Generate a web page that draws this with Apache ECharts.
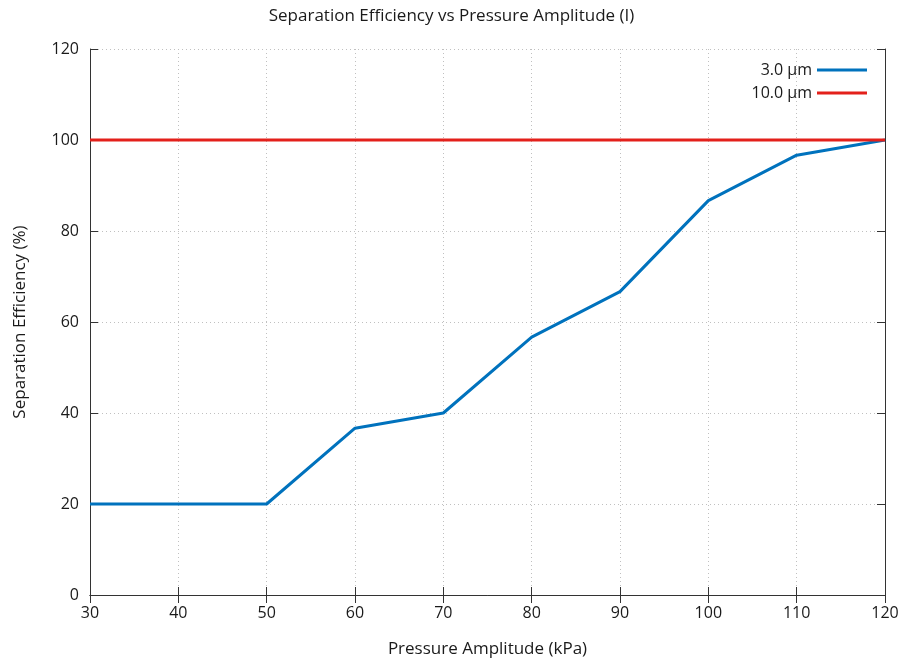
<!DOCTYPE html>
<html>
<head>
<meta charset="utf-8">
<script src="https://cdn.jsdelivr.net/npm/echarts@6/dist/echarts.min.js"></script>
<style>
  html, body { margin: 0; padding: 0; background: #fff; }
  #chart { width: 903px; height: 663px; }
</style>
</head>
<body>
<div id="chart"></div>
<script>
// Pressure amplitude (kPa) on the x axis
const pressure = [30, 40, 50, 60, 70, 80, 90, 100, 110, 120];
// Separation efficiency (%) for each particle size
const eff3um = [20, 20, 20, 36.67, 40, 56.67, 66.67, 86.67, 96.67, 100];
const eff10um = [100, 100, 100, 100, 100, 100, 100, 100, 100, 100];

const FONT = 'Open Sans';
const AXIS_COLOR = '#333';
const textStyle = { fontFamily: FONT, fontSize: 16, color: '#1a1a1a' };
const nameStyle = { fontFamily: FONT, fontSize: 17, color: '#1a1a1a' };

const toPairs = (xs, ys) => xs.map((x, i) => [x, ys[i]]);

const chart = echarts.init(document.getElementById('chart'), null, { renderer: 'canvas' });

const gridLine = { show: true, lineStyle: { color: '#c0c0c0', type: [1, 3], width: 1 } };
const tick = { show: true, inside: true, length: 8, lineStyle: { color: AXIS_COLOR, width: 1 } };

chart.setOption({
  animation: false,
  backgroundColor: '#fff',
  title: {
    text: 'Separation Efficiency vs Pressure Amplitude (I)',
    left: 'center',
    top: 3,
    textStyle: { fontFamily: FONT, fontSize: 17, fontWeight: 'normal', color: '#1a1a1a' }
  },
  legend: {
    right: 36,
    top: 62,
    padding: 0,
    orient: 'vertical',
    align: 'right',
    itemWidth: 50,
    itemHeight: 3,
    itemGap: 7,
    textStyle: textStyle,
    data: [
      { name: '3.0 µm', icon: 'rect' },
      { name: '10.0 µm', icon: 'rect' }
    ]
  },
  grid: { left: 90, right: 18, top: 49, bottom: 67, containLabel: false },
  xAxis: [
    {
      type: 'value', min: 30, max: 120, interval: 10,
      name: 'Pressure Amplitude (kPa)', nameLocation: 'middle', nameGap: 46,
      nameTextStyle: nameStyle,
      axisLine: { show: true, lineStyle: { color: AXIS_COLOR, width: 1 } },
      axisTick: tick,
      axisLabel: { ...textStyle, margin: 10 },
      splitLine: gridLine
    },
    {
      type: 'value', min: 30, max: 120, interval: 10, position: 'top',
      axisLine: { show: true, lineStyle: { color: AXIS_COLOR, width: 1 } },
      axisTick: tick, axisLabel: { show: false }, splitLine: { show: false }
    }
  ],
  yAxis: [
    {
      type: 'value', min: 0, max: 120, interval: 20,
      name: 'Separation Efficiency (%)', nameLocation: 'middle', nameGap: 61,
      nameRotate: 90,
      nameTextStyle: nameStyle,
      axisLine: { show: true, lineStyle: { color: AXIS_COLOR, width: 1 } },
      axisTick: tick,
      axisLabel: { ...textStyle, margin: 11 },
      splitLine: gridLine
    },
    {
      type: 'value', min: 0, max: 120, interval: 20, position: 'right',
      axisLine: { show: true, lineStyle: { color: AXIS_COLOR, width: 1 } },
      axisTick: tick, axisLabel: { show: false }, splitLine: { show: false }
    }
  ],
  series: [
    {
      name: '3.0 µm', type: 'line', data: toPairs(pressure, eff3um),
      showSymbol: false, symbol: 'none', color: '#0072bd',
      lineStyle: { width: 3, color: '#0072bd' }, z: 3
    },
    {
      name: '10.0 µm', type: 'line', data: toPairs(pressure, eff10um),
      showSymbol: false, symbol: 'none', color: '#e3201b',
      lineStyle: { width: 3, color: '#e3201b' }, z: 4
    }
  ]
});
</script>
</body>
</html>
